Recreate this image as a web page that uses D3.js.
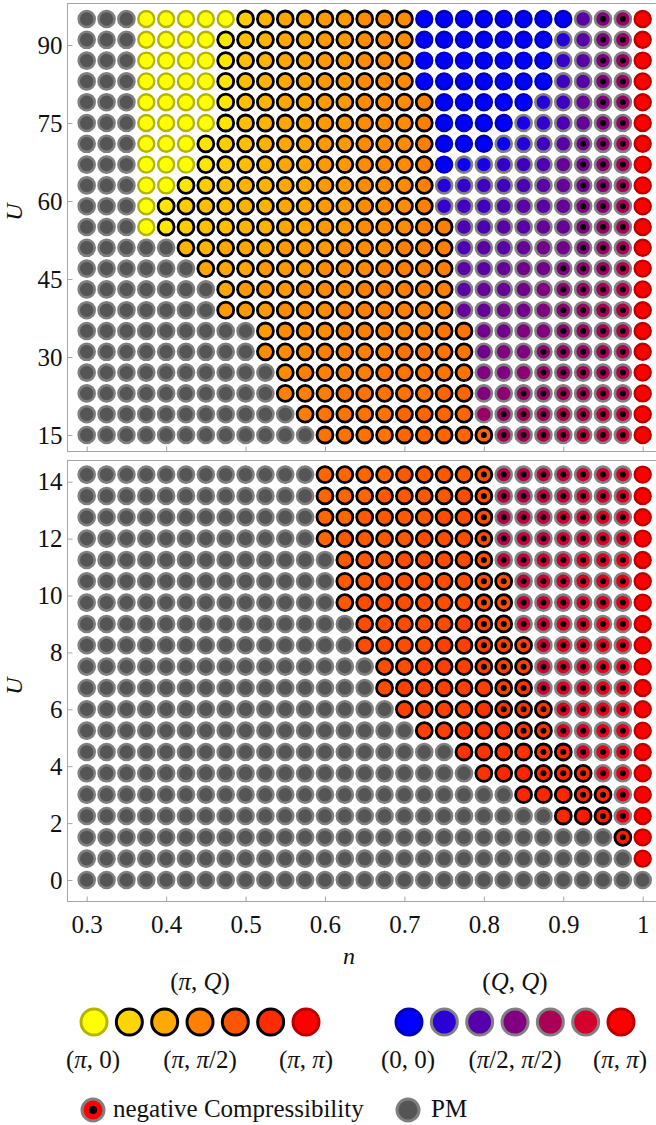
<!DOCTYPE html>
<html><head><meta charset="utf-8">
<script src="https://cdn.jsdelivr.net/npm/d3@7"></script>
<style>
body{margin:0;background:#fff}
svg{display:block}
</style>
</head><body>
<svg id="c" width="656" height="1125"></svg>
<script>
// ---------------- DATA ----------------
const nValues = [0.3,0.325,0.35,0.375,0.4,0.425,0.45,0.475,0.5,0.525,0.55,0.575,0.6,0.625,0.65,0.675,0.7,0.725,0.75,0.775,0.8,0.825,0.85,0.875,0.9,0.925,0.95,0.975,1.0];
const xTicks = [0.3,0.4,0.5,0.6,0.7,0.8,0.9,1];

// top panel: U values, top row first
const topU = [95,91,87,83,79,75,71,67,63,59,55,51,47,43,39,35,31,27,23,19,15];
const topTicks = [15,30,45,60,75,90];
// '.' = PM, 'A'..'U' = (pi,Q) with Q/pi = 0..1 in steps of 0.05, 'a'..'u' = (Q,Q) with Q/pi = 0..1
const topPhase = [
"...AAAAAEGHHIIJJJaaaaaaaahkmU",
"...AAAACFGHHIIJJJaaaaaaadhkmU",
"...AAAACFGHHIIJJJaaaaaaaehkmU",
"...AAAACFGHHIIJJJaaaaaaafhkmU",
"...AAAACFGHHIIJJJKaaaaadfikmU",
"...AAAACFGHHIIJJJKaaaacegikmU",
"...AAACEFGHHIIJJJKaaabdfhjlnU",
"...AAACEFGHHIIJJJKabcefgijlnU",
"...AACEFGGHHIIJJJKdeffghijlnU",
"...ACEFFGGHHIIJJJKeffghhiklnU",
"...ACEFFGGHHIIJJJKKgghhiikmnU",
".....GGHHHIIIJJJKKKghhijjkmnU",
"......HHHIIIJJJKKKKhhijjklmoU",
".......HIIIJJJKKKKKhiijklmnoU",
".......IIIJJJKKKKKKiijjklmnoU",
".........IJJJKKKKKLLjjkklmnoU",
".........JJJKKKKLLLLjkklmmnoU",
"..........JKKKKLLLLLkklmmnnoU",
"..........KKKLLLLLMMklmmnnooU",
"...........KLLLLMMMMmmnnooppU",
"............LLLLMMMMMnnooppqU"
];
// first n showing negative compressibility (up to n = 0.975), per row
const topNegFrom = [0.95,0.95,0.95,0.95,0.95,0.95,0.925,0.925,0.925,0.925,0.925,0.925,0.9,0.9,0.9,0.9,0.875,0.875,0.85,0.825,0.8];

// bottom panel
const botU = [14.25,13.5,12.75,12,11.25,10.5,9.75,9,8.25,7.5,6.75,6,5.25,4.5,3.75,3,2.25,1.5,0.75,0];
const botTicks = [0,2,4,6,8,10,12,14];
const botPhase = [
"............MMMMNNNNOooppqqrU",
"............MMMNNNNOOooppqqrU",
"............MMNNNNOOOoppqqrrU",
"............MNNNNOOOOoppqqrrU",
".............NNNOOOOOppqqrrsU",
".............NNOOOOOOOpqqrrsU",
".............NOOOOOOOOpqqrrsU",
"..............OOOOOPPPqqrrssU",
"..............OOOOPPPPPqrrssU",
"...............OOPPPPPPqrrssU",
"...............OPPPPPPQqrrssU",
"................PPPPQQQQrrssU",
".................PPQQQQQrrssU",
"...................QQQQQRrssU",
"....................QRRRRRssU",
"......................RRRRRsU",
"........................RSSsU",
"...........................SU",
"............................U",
"............................."
];
const botNegFrom = [0.8,0.8,0.8,0.8,0.8,0.8,0.8,0.8,0.8,0.8,0.825,0.825,0.85,0.875,0.875,0.925,0.95,0.975,null,null];

// legends
const piQLegend = [0,1/6,2/6,3/6,4/6,5/6,1];
const qqLegend  = [0,1/6,2/6,3/6,4/6,5/6,1];

// ---------------- DRAW ----------------
const FONT = "'Liberation Serif','Times New Roman','DejaVu Serif',serif";
const svg = d3.select("#c");
const x = d3.scaleLinear().domain([0.3,1]).range([86.7,642.7]);
const yTop = d3.scaleLinear().domain([15,90]).range([435,45]);
const yBot = d3.scaleLinear().domain([0,14]).range([880,481.7]);
const piQColor = d3.scaleLinear().domain([0,1]).range(["#ffff00","#ff0000"]);
const qqColor  = d3.scaleLinear().domain([0,1]).range(["#0000ff","#ff0000"]);

function style(kind, t){
  if (kind === "pm") return {fill:"#555555", stroke:"#7f7f7f", sw:2.6};
  if (t <= 0) return kind === "piQ" ? {fill:"#ffff00",stroke:"#b4b400",sw:2.4} : {fill:"#0000ff",stroke:"#0000b8",sw:2.4};
  if (t >= 1) return {fill:"#ff0000",stroke:"#b80000",sw:2.4};
  return kind === "piQ" ? {fill:piQColor(t),stroke:"#000",sw:2.8} : {fill:qqColor(t),stroke:"#808080",sw:2.6};
}
function decode(ch){
  if (ch === ".") return {kind:"pm", t:0};
  const c = ch.charCodeAt(0);
  if (c >= 65 && c <= 90) return {kind:"piQ", t:(c-65)/20};
  return {kind:"qq", t:(c-97)/20};
}
function buildCells(phase, Us, negFrom){
  const cells = [];
  phase.forEach((row, r) => {
    row.split("").forEach((ch, i) => {
      const d = decode(ch);
      const nf = negFrom[r];
      const neg = nf !== null && nValues[i] >= nf - 1e-9 && nValues[i] < 0.999;
      cells.push({n:nValues[i], U:Us[r], kind:d.kind, t:d.t, neg});
    });
  });
  return cells;
}
function styleText(sel, size){
  sel.style("font-family", FONT).style("font-size", size + "px").style("fill", "#111");
}

function panel(cells, y, top, bottom, ticks, showX){
  const g = svg.append("g");
  g.append("rect").attr("x",67.5).attr("y",top).attr("width",700).attr("height",bottom-top)
    .attr("fill","none").attr("stroke","#a6a6a6").attr("stroke-width",1);
  const ya = d3.axisLeft(y).tickValues(ticks).tickSize(-5).tickPadding(5);
  const yg = g.append("g").attr("transform","translate(67.5,0)").call(ya);
  yg.select(".domain").remove();
  yg.selectAll(".tick line").attr("stroke","#a6a6a6");
  styleText(yg.selectAll(".tick text"), 25);
  const xa = d3.axisBottom(x).tickValues(xTicks).tickSize(-5).tickFormat(d3.format(""));
  const xg = g.append("g").attr("transform",`translate(0,${bottom})`).call(xa);
  xg.select(".domain").remove();
  xg.selectAll(".tick line").attr("stroke","#a6a6a6");
  if (showX) {
    styleText(xg.selectAll(".tick text").attr("dy",null).attr("y",31), 25);
  } else xg.selectAll(".tick text").remove();

  const cg = g.append("g");
  cells.forEach(c => {
    const s = style(c.kind, c.t);
    cg.append("circle").attr("cx",x(c.n)).attr("cy",y(c.U)).attr("r",8)
      .attr("fill",s.fill).attr("stroke",s.stroke).attr("stroke-width",s.sw);
    if (c.neg) cg.append("circle").attr("cx",x(c.n)).attr("cy",y(c.U)).attr("r",3).attr("fill","#000");
  });
}

panel(buildCells(topPhase, topU, topNegFrom), yTop, 3.5, 451.5, topTicks, false);
panel(buildCells(botPhase, botU, botNegFrom), yBot, 460.5, 901.5, botTicks, true);

// axis labels
function italic(t, xx, yy, rot){
  const e = svg.append("text").attr("text-anchor","middle").text(t);
  styleText(e, 24);
  e.style("font-style","italic");
  if (rot) e.attr("transform",`translate(${xx},${yy}) rotate(-90)`); else e.attr("x",xx).attr("y",yy);
}
italic("U", 22, 212, true);
italic("U", 22, 686, true);
italic("n", 349, 964, false);

function mathLabel(parts, cx, cy){
  const t = svg.append("text").attr("x",cx).attr("y",cy).attr("text-anchor","middle");
  styleText(t, 25);
  parts.forEach(p => t.append("tspan").style("font-style", p[1] ? "italic" : "normal").text(p[0]));
}
const lx1 = d3.scalePoint().domain(d3.range(piQLegend.length)).range([94,306]);
const lx2 = d3.scalePoint().domain(d3.range(qqLegend.length)).range([409,621]);
piQLegend.forEach((t,i) => {
  const s = style("piQ", t);
  svg.append("circle").attr("cx",lx1(i)).attr("cy",1022).attr("r",13).attr("fill",s.fill).attr("stroke",s.stroke).attr("stroke-width",3);
});
qqLegend.forEach((t,i) => {
  const s = style("qq", t);
  svg.append("circle").attr("cx",lx2(i)).attr("cy",1022).attr("r",13).attr("fill",s.fill).attr("stroke",s.stroke).attr("stroke-width",3);
});
mathLabel([["(",0],["π",1],[", ",0],["Q",1],[")",0]], 200, 990);
mathLabel([["(",0],["Q",1],[", ",0],["Q",1],[")",0]], 515, 990);
mathLabel([["(",0],["π",1],[", 0)",0]], 93, 1068);
mathLabel([["(",0],["π",1],[", ",0],["π",1],["/2)",0]], 200, 1068);
mathLabel([["(",0],["π",1],[", ",0],["π",1],[")",0]], 306, 1068);
mathLabel([["(0, 0)",0]], 408, 1068);
mathLabel([["(",0],["π",1],["/2, ",0],["π",1],["/2)",0]], 515, 1068);
mathLabel([["(",0],["π",1],[", ",0],["π",1],[")",0]], 620, 1068);

svg.append("circle").attr("cx",93).attr("cy",1110).attr("r",11).attr("fill","#ff0000").attr("stroke","#808080").attr("stroke-width",3);
svg.append("circle").attr("cx",93).attr("cy",1110).attr("r",4).attr("fill","#000");
styleText(svg.append("text").attr("x",113).attr("y",1117).text("negative Compressibility"), 25);
svg.append("circle").attr("cx",408).attr("cy",1110).attr("r",11).attr("fill","#555555").attr("stroke","#7f7f7f").attr("stroke-width",3);
styleText(svg.append("text").attr("x",431).attr("y",1117).text("PM"), 25);
</script>
</body></html>
